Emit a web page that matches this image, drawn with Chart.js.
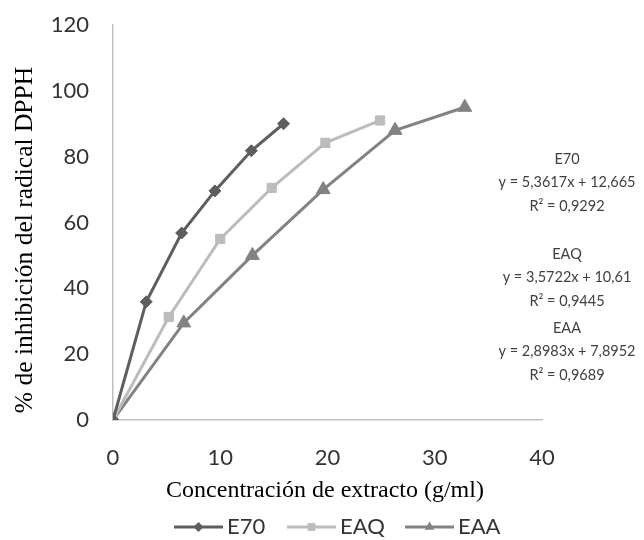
<!DOCTYPE html>
<html>
<head>
<meta charset="utf-8">
<script src="https://cdn.jsdelivr.net/npm/chart.js@4.4.1/dist/chart.umd.min.js"></script>
<style>
html,body{margin:0;padding:0;background:#fff;}
#wrap{width:644px;height:540px;position:relative;}
</style>
</head>
<body>
<div id="wrap"><canvas id="c" width="644" height="540"></canvas></div>
<script>
// Data
const seriesNames = ["E70", "EAQ", "EAA"];
const e70X = [0, 3.1, 6.4, 9.5, 12.9, 15.9];
const e70Y = [0, 35.9, 56.8, 69.6, 81.8, 90.0];
const eaqX = [0, 5.2, 10.0, 14.8, 19.8, 24.9];
const eaqY = [0, 31.3, 55.0, 70.5, 84.2, 91.0];
const eaaX = [0, 6.6, 13.0, 19.6, 26.3, 32.8];
const eaaY = [0, 29.5, 50.0, 70.0, 88.0, 95.0];
const xTicks = [0, 10, 20, 30, 40];
const yTicks = [0, 20, 40, 60, 80, 100, 120];
const equations = [
  ["E70", "y = 5,3617x + 12,665", "R² = 0,9292"],
  ["EAQ", "y = 3,5722x + 10,61", "R² = 0,9445"],
  ["EAA", "y = 2,8983x + 7,8952", "R² = 0,9689"]
];
const xTitle = "Concentración de extracto (g/ml)";
const yTitle = "% de inhibición del radical DPPH";

const colors = ["#5e5e5e", "#bcbcbc", "#828282"];
const styles = ["rectRot", "rect", "triangle"];
const radii = [6, 6.5, 8];

function pts(xs, ys){ return xs.map((x,i)=>({x:x, y:ys[i]})); }
const allX = [e70X, eaqX, eaaX];
const allY = [e70Y, eaqY, eaaY];

const datasets = seriesNames.map((n,i)=>({
  label: n,
  data: pts(allX[i], allY[i]),
  showLine: true,
  borderColor: colors[i],
  backgroundColor: colors[i],
  borderWidth: 3,
  pointStyle: styles[i],
  pointRadius: radii[i],
  pointHoverRadius: radii[i],
  pointBorderWidth: 1,
  pointBorderColor: colors[i],
  pointBackgroundColor: colors[i],
  tension: 0
}));

const sans = "Lato, 'Open Sans', sans-serif";
const serif = "'Liberation Serif', 'DejaVu Serif', serif";

const decor = {
  id: 'decor',
  afterDraw(chart){
    const ctx = chart.ctx;
    ctx.save();
    // axis titles
    ctx.fillStyle = "#000";
    ctx.textAlign = "center";
    ctx.textBaseline = "middle";
    ctx.font = "24px " + serif;
    ctx.fillText(xTitle, 325, 491);
    ctx.save();
    ctx.translate(25, 240);
    ctx.rotate(-Math.PI/2);
    ctx.font = "25.5px " + serif;
    ctx.fillText(yTitle, 0, 0);
    ctx.restore();
    // equations
    ctx.fillStyle = "#404040";
    ctx.font = "14.5px " + sans;
    const starts = [159, 254, 328];
    equations.forEach((eq, k)=>{
      eq.forEach((t, j)=>{
        ctx.fillText(t, 567, starts[k] + j*23.5);
      });
    });
    // legend
    const lx = [174, 287, 405];
    const ly = 527;
    chart.data.datasets.forEach((ds, i)=>{
      ctx.strokeStyle = ds.borderColor;
      ctx.lineWidth = 3;
      ctx.beginPath();
      ctx.moveTo(lx[i], ly);
      ctx.lineTo(lx[i] + 49, ly);
      ctx.stroke();
      ctx.fillStyle = ds.borderColor;
      Chart.helpers.drawPoint(ctx, {pointStyle: ds.pointStyle, radius: Math.min(ds.pointRadius, 6.5) - 1, borderWidth: 0}, lx[i] + 24.5, ly);
      ctx.fillStyle = "#333";
      ctx.font = "22px " + sans;
      ctx.textAlign = "left";
      ctx.fillText(ds.label, lx[i] + 53, ly);
    });
    ctx.restore();
  }
};

new Chart(document.getElementById('c'), {
  type: 'scatter',
  data: { datasets: datasets },
  plugins: [decor],
  options: {
    responsive: false,
    animation: false,
    devicePixelRatio: 1,
    layout: { padding: { left: 0, right: 102, top: 25, bottom: 0 } },
    plugins: { legend: { display: false }, tooltip: { enabled: false } },
    scales: {
      x: {
        type: 'linear', min: 0, max: 40,
        afterBuildTicks: s => { s.ticks = xTicks.map(v=>({value:v})); },
        afterFit: s => { s.height = 120; s.paddingLeft = 0; s.paddingRight = 0; },
        grid: { display: false, drawTicks: false },
        border: { display: true, color: '#bfbfbf', width: 1.5 },
        ticks: { color: '#333', font: { family: sans, size: 22 }, padding: 25 }
      },
      y: {
        type: 'linear', min: 0, max: 120,
        afterBuildTicks: s => { s.ticks = yTicks.map(v=>({value:v})); },
        afterFit: s => { s.width = 113; s.paddingTop = 0; s.paddingBottom = 0; },
        grid: { display: false, drawTicks: false },
        border: { display: true, color: '#bfbfbf', width: 1.5 },
        ticks: { color: '#333', font: { family: sans, size: 22 }, padding: 24 }
      }
    }
  }
});
</script>
</body>
</html>
